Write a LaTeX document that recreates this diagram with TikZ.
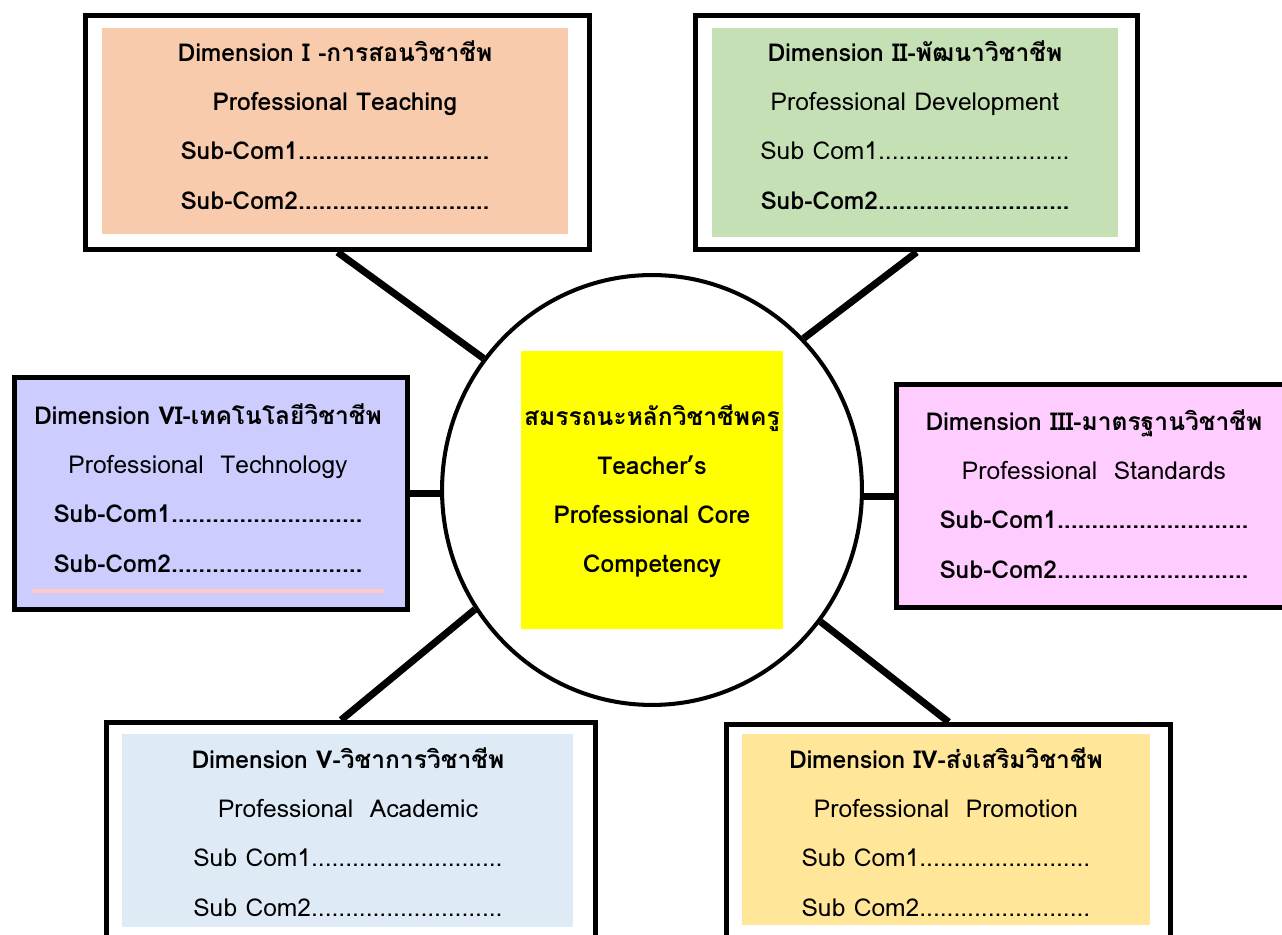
\documentclass[tikz,border=0pt]{standalone}
\usepackage{fontspec}
\setmainfont[Script=Thai]{Loma}
\usetikzlibrary{shapes.geometric}

\definecolor{peach}{HTML}{F8CBAD}
\definecolor{leaf}{HTML}{C5E0B4}
\definecolor{lavender}{HTML}{CCCCFF}
\definecolor{candy}{HTML}{FFCCFF}
\definecolor{sky}{HTML}{DEEBF7}
\definecolor{gold}{HTML}{FFE699}
\definecolor{coreyellow}{HTML}{FFFF00}
\definecolor{blush}{HTML}{FFC9C9}

\newcommand{\subdots}{............................}
\newcommand{\shortdots}{.........................}

\tikzset{
  frame/.style={below right, draw, line width=3pt},
  panel/.style={below right, inner sep=0pt},
  spoke/.style={line width=4pt},
  dimtext/.style={align=center, font=\fontsize{14}{28}\selectfont},
}

\begin{document}
\begin{tikzpicture}[x=0.02cm, y=-0.02cm]
\useasboundingbox (0,0) rectangle (1282,935);

% centre circle with yellow box
\node[ellipse, draw, line width=2.3pt, minimum width=8.4cm, minimum height=8.6cm, inner sep=0pt] (core) at (652,490) {};
\node[fill=coreyellow, minimum width=5.24cm, minimum height=5.58cm, inner sep=0pt] (corebox) at (652,490) {};
\node[dimtext, font=\fontsize{14}{28}\selectfont\bfseries] (coretext) at (652,491) {สมรรถนะหลักวิชาชีพครู\\ Teacher’s\\ Professional Core\\ Competency};

% Dimension I (top left)
\node[frame, minimum width=10.08cm, minimum height=4.68cm] (dimI) at (83,13) {};
\node[panel, fill=peach, minimum width=9.32cm, minimum height=4.12cm] (panelI) at (102,28) {};
\node[dimtext, font=\fontsize{14}{28}\selectfont\bfseries] (textI) at (335,125) {Dimension I -การสอนวิชาชีพ\\ Professional Teaching\\ Sub-Com1\subdots\\ Sub-Com2\subdots};

% Dimension II (top right)
\node[frame, minimum width=8.84cm, minimum height=4.68cm] (dimII) at (693,13) {};
\node[panel, fill=leaf, minimum width=8.12cm, minimum height=4.18cm] (panelII) at (712,28) {};
\node[dimtext] (textII) at (915,125) {\textbf{Dimension II-พัฒนาวิชาชีพ}\\ Professional Development\\ Sub Com1\subdots\\ \textbf{Sub-Com2\subdots}};

% Dimension VI (left)
\node[frame, fill=lavender, minimum width=7.86cm, minimum height=4.64cm] (dimVI) at (12,375) {};
\node[panel, fill=blush, minimum width=7.04cm, minimum height=0.08cm] (ruleVI) at (32,589) {};
\node[dimtext] (textVI) at (208,488) {\textbf{Dimension VI-เทคโนโลยีวิชาชีพ}\\ Professional~~Technology\\ \textbf{Sub-Com1\subdots}\\ \textbf{Sub-Com2\subdots}};

% Dimension III (right)
\node[frame, fill=candy, minimum width=8cm, minimum height=4.46cm] (dimIII) at (894,382) {};
\node[dimtext] (textIII) at (1094,494) {\textbf{Dimension III-มาตรฐานวิชาชีพ}\\ Professional~~Standards\\ \textbf{Sub-Com1\subdots}\\ \textbf{Sub-Com2\subdots}};

% Dimension V (bottom left)
\node[frame, minimum width=9.78cm, minimum height=4.8cm] (dimV) at (104,720) {};
\node[panel, fill=sky, minimum width=9.02cm, minimum height=3.86cm] (panelV) at (122,734) {};
\node[dimtext] (textV) at (348,832) {\textbf{Dimension V-วิชาการวิชาชีพ}\\ Professional~~Academic\\ Sub Com1\subdots\\ Sub Com2\subdots};

% Dimension IV (bottom right)
\node[frame, minimum width=8.88cm, minimum height=4.8cm] (dimIV) at (724,722) {};
\node[panel, fill=gold, minimum width=8.16cm, minimum height=3.82cm] (panelIV) at (742,734) {};
\node[dimtext] (textIV) at (946,832) {\textbf{Dimension IV-ส่งเสริมวิชาชีพ}\\ Professional~~Promotion\\ Sub Com1\shortdots\\ Sub Com2\shortdots};

% spokes
\draw[spoke] (dimI.south) -- (core.142);
\draw[spoke] (dimII.south) -- (core.45);
\draw[spoke] (dimVI.east) -- (dimVI.east -| core.west);
\draw[spoke] (dimIII.west) -- (dimIII.west -| core.east);
\draw[spoke] ([xshift=-0.2cm]dimV.north) -- (core.214);
\draw[spoke] (dimIV.north) -- (core.322);

\end{tikzpicture}
\end{document}
